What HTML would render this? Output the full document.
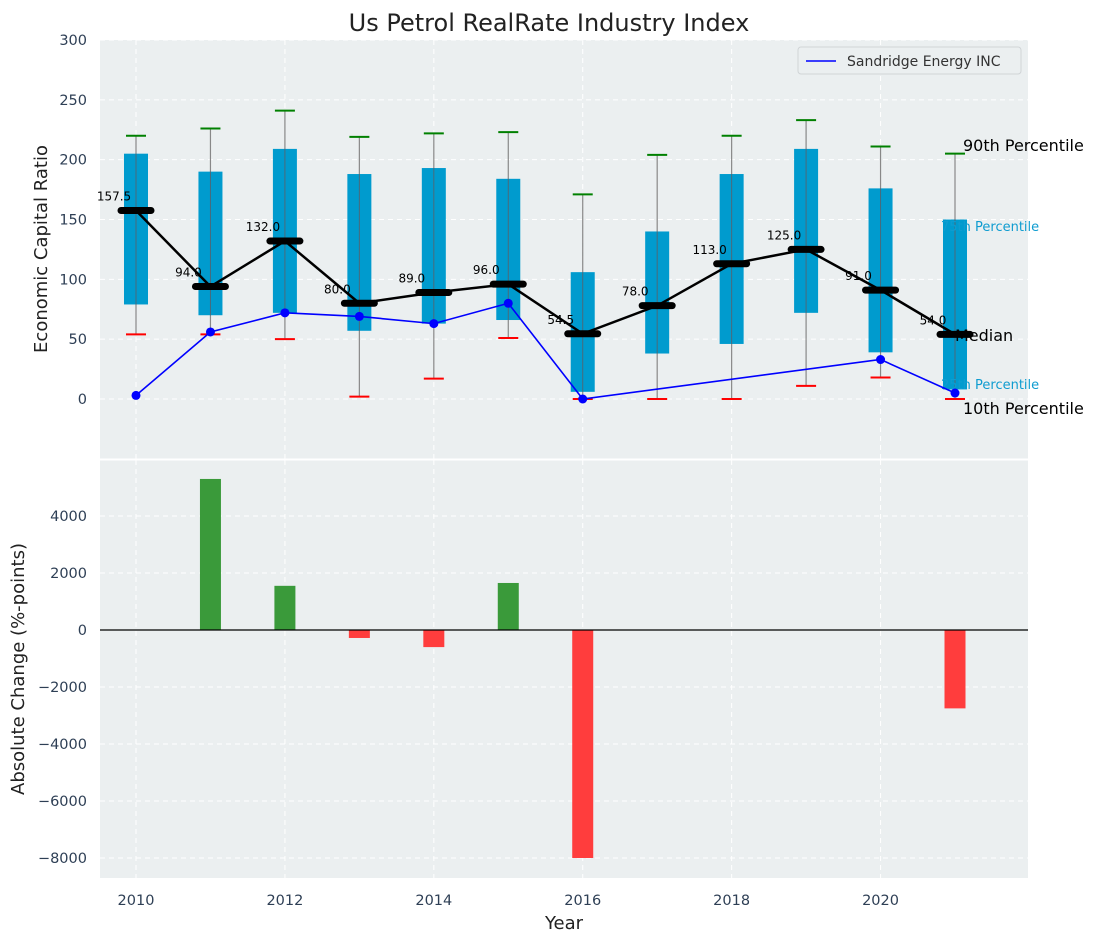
<!DOCTYPE html>
<html><head><meta charset="utf-8"><style>
body{margin:0;background:#fff;}
svg text{font-family:"DejaVu Sans","Liberation Sans",sans-serif;}
</style></head><body>
<svg id="chart" width="1098" height="942" xmlns="http://www.w3.org/2000/svg"></svg>
<script>
const years=[2010,2011,2012,2013,2014,2015,2016,2017,2018,2019,2020,2021];
const p10=[54,54,50,2,17,51,0,0,0,11,18,0];
const p25=[79,70,72,57,63,66,6,38,46,72,39,8];
const medians=[157.5,94.0,132.0,80.0,89.0,96.0,54.5,78.0,113.0,125.0,91.0,54.0];
const p75=[205,190,209,188,193,184,106,140,188,209,176,150];
const p90=[220,226,241,219,222,223,171,204,220,233,211,205];
const companyYears=[2010,2011,2012,2013,2014,2015,2016,2020,2021];
const companyValues=[3,56,72,69,63,80,0,33,5];
const changeYears=[2011,2012,2013,2014,2015,2016,2021];
const changeValues=[5300,1550,-280,-600,1650,-8000,-2750];
const topTicks=[0,50,100,150,200,250,300];
const botTicks=[-8000,-6000,-4000,-2000,0,2000,4000];
const xTicks=[2010,2012,2014,2016,2018,2020];

const NS="http://www.w3.org/2000/svg";
const svg=document.getElementById('chart');
function el(tag,attrs,parent){const e=document.createElementNS(NS,tag);for(const k in attrs)e.setAttribute(k,attrs[k]);(parent||svg).appendChild(e);return e;}
const L=100,R=1028;
const X=y=>136+(y-2010)*(955-136)/11;
const YT=v=>399-v*(359/300);
const YB=v=>630-v*(57/2000);
const T1=40,B1=459,T2=460,B2=878;

let e=el('rect',{x:L,y:T1,width:R-L,height:B1-T1,fill:'#ebeff0'});

e=el('rect',{x:L,y:T2,width:R-L,height:B2-T2,fill:'#ebeff0'});


xTicks.forEach(t=>{
  el('line',{x1:X(t),x2:X(t),y1:T1,y2:B1,stroke:'#fff','stroke-dasharray':'5,4','stroke-width':1});
  el('line',{x1:X(t),x2:X(t),y1:T2,y2:B2,stroke:'#fff','stroke-dasharray':'5,4','stroke-width':1});
});
topTicks.forEach(t=>{
  el('line',{x1:L,x2:R,y1:YT(t),y2:YT(t),stroke:'#fff','stroke-dasharray':'5,4'});
  const tx=el('text',{x:L-13,y:YT(t)+5,'text-anchor':'end','font-size':14.5,fill:'#2e3f55'});tx.textContent=t;
  
});
botTicks.forEach(t=>{
  el('line',{x1:L,x2:R,y1:YB(t),y2:YB(t),stroke:'#fff','stroke-dasharray':'5,4'});
  const tx=el('text',{x:L-13,y:YB(t)+5,'text-anchor':'end','font-size':14.5,fill:'#2e3f55'});tx.textContent=(t<0?'\u2212'+(-t):t);
  
});
xTicks.forEach(t=>{
  const tx=el('text',{x:X(t),y:905,'text-anchor':'middle','font-size':14.5,fill:'#2e3f55'});tx.textContent=t;
  
});
el('line',{x1:L,x2:R,y1:459.5,y2:459.5,stroke:'#fff','stroke-width':2});

years.forEach((y,i)=>{
  const x=X(y);
  let w=el('line',{x1:x,x2:x,y1:YT(p10[i]),y2:YT(p90[i]),stroke:'#888','stroke-width':1.2});
  
  let b=el('rect',{x:x-12,y:YT(p75[i]),width:24,height:YT(p25[i])-YT(p75[i]),fill:'#009bce'});
  
  el('line',{x1:x,x2:x,y1:YT(p25[i]),y2:YT(p75[i]),stroke:'#4a6a7a','stroke-width':1});
  let c=el('line',{x1:x-10,x2:x+10,y1:YT(p90[i]),y2:YT(p90[i]),stroke:'#008000','stroke-width':2});
  
  c=el('line',{x1:x-10,x2:x+10,y1:YT(p10[i]),y2:YT(p10[i]),stroke:'#f00','stroke-width':2});
  
});

// right labels
[['90th Percentile',151,16,'#000',963],['75th Percentile',231,13,'#0f9cd0',941],['Median',341,16,'#000',955],['25th Percentile',389,13,'#0f9cd0',941],['10th Percentile',414,16,'#000',963]].forEach(a=>{
  const tx=el('text',{x:a[4],y:a[1],'font-size':a[2],fill:a[3]});tx.textContent=a[0];
  
});

let mp=years.map((y,i)=>X(y)+','+YT(medians[i])).join(' ');
e=el('polyline',{points:mp,fill:'none',stroke:'#000','stroke-width':2.5});

years.forEach((y,i)=>{
  const m=el('line',{x1:X(y)-15,x2:X(y)+15,y1:YT(medians[i]),y2:YT(medians[i]),stroke:'#000','stroke-width':7,'stroke-linecap':'round'});
  
  const t=el('text',{x:X(y)-22,y:YT(medians[i])-10,'text-anchor':'middle','font-size':12,fill:'#000'});t.textContent=medians[i].toFixed(1);
  
});
e=el('polyline',{points:companyYears.map((y,i)=>X(y)+','+YT(companyValues[i])).join(' '),fill:'none',stroke:'#0000ff','stroke-width':1.6});

companyYears.forEach((y,i)=>{
  const d=el('circle',{cx:X(y),cy:YT(companyValues[i]),r:4.5,fill:'#0000ff'});
  
});

changeYears.forEach((y,i)=>{
  const v=changeValues[i];
  const b=el('rect',{x:X(y)-10.5,y:Math.min(YB(v),YB(0)),width:21,height:Math.abs(YB(v)-YB(0)),fill:v>=0?'#3a9a3a':'#ff3d3d'});
  
});
el('line',{x1:L,x2:R,y1:YB(0),y2:YB(0),stroke:'#000','stroke-width':1.2});

const lg=el('g',{});

el('rect',{x:798,y:47,width:223,height:27,rx:3,fill:'#ebeff0',stroke:'#d0d4d6'},lg);
el('line',{x1:806,x2:836,y1:61,y2:61,stroke:'#0000ff','stroke-width':1.6},lg);
let lt=el('text',{x:847,y:66,'font-size':14,fill:'#333'},lg);lt.textContent='Sandridge Energy INC';

let t=el('text',{x:549,y:31,'text-anchor':'middle','font-size':24,fill:'#222'});t.textContent='Us Petrol RealRate Industry Index';

t=el('text',{x:564,y:929,'text-anchor':'middle','font-size':18,fill:'#222'});t.textContent='Year';

t=el('text',{x:0,y:0,'text-anchor':'middle','font-size':18,fill:'#222',transform:'translate(47,249) rotate(-90)'});t.textContent='Economic Capital Ratio';

t=el('text',{x:0,y:0,'text-anchor':'middle','font-size':18,fill:'#222',transform:'translate(24,669) rotate(-90)'});t.textContent='Absolute Change (%-points)';

</script>
</body></html>
